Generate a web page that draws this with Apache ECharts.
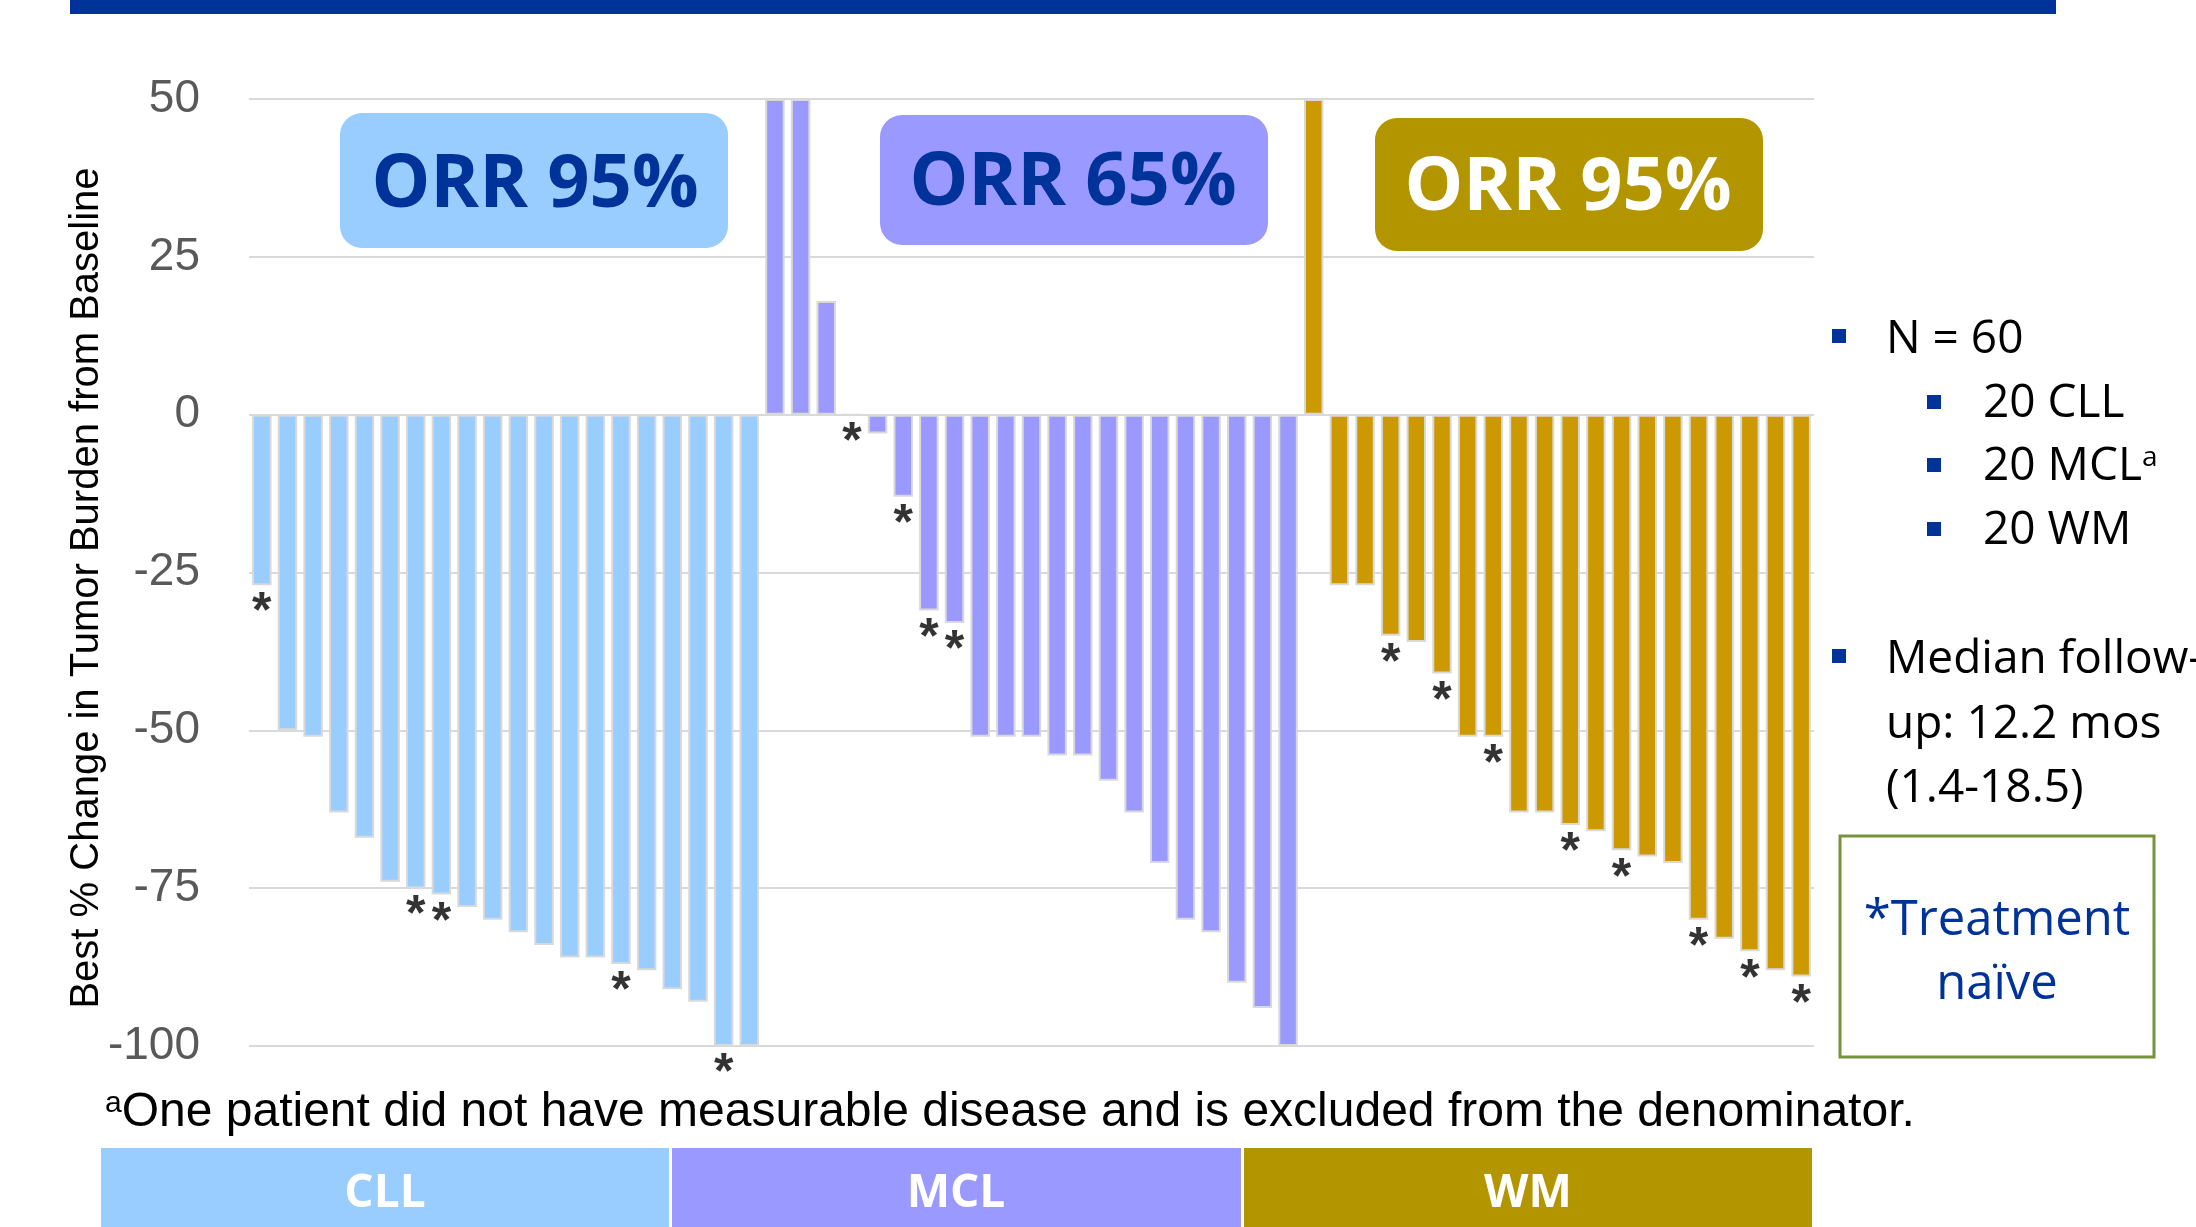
<!DOCTYPE html>
<html>
<head>
<meta charset="utf-8">
<script src="https://cdn.jsdelivr.net/npm/echarts@6/dist/echarts.min.js"></script>
<style>
html, body { margin: 0; padding: 0; background: #fff; }
#chart { width: 2196px; height: 1227px; }
</style>
</head>
<body>
<div id="chart"></div>
<script>
// best % change per patient, sorted within each group
var cllValues = [-27, -50, -51, -63, -67, -74, -75, -76, -78, -80, -82, -84, -86, -86, -87, -88, -91, -93, -100, -100];
var mclValues = [50, 50, 18, 0, -3, -13, -31, -33, -51, -51, -51, -54, -54, -58, -63, -71, -80, -82, -90, -94, -100];
var wmValues = [50, -27, -27, -35, -36, -41, -51, -51, -63, -63, -65, -66, -69, -70, -71, -80, -83, -85, -88, -89];
// treatment naive patients (index inside each group)
var cllStars = [0, 6, 7, 14, 18];
var mclStars = [3, 5, 6, 7];
var wmStars = [3, 5, 7, 10, 12, 15, 17, 19];
var groupNames = ['CLL', 'MCL', 'WM'];
var orrLabels = ['ORR 95%', 'ORR 65%', 'ORR 95%'];
var yMin = -100, yMax = 50, yStep = 25;

var colors = { CLL: '#99CCFF', MCL: '#9999FF', WM: '#CC9900' };
var darkBlue = '#003399';

var cats = [];
var barData = [];
var starData = [];
function addGroup(vals, stars, name) {
    for (var i = 0; i < vals.length; i++) {
        var idx = cats.length;
        cats.push(name + ' ' + (i + 1));
        barData.push({ value: vals[i], itemStyle: { color: colors[name] } });
        if (stars.indexOf(i) >= 0) {
            starData.push([idx, vals[i]]);
        }
    }
}
addGroup(cllValues, cllStars, 'CLL');
addGroup(mclValues, mclStars, 'MCL');
addGroup(wmValues, wmStars, 'WM');

var myChart = echarts.init(document.getElementById('chart'));

var sideFont = '"Open Sans", "Noto Sans", sans-serif';
var arial = '"Liberation Sans", Arial, sans-serif';

function txt(text, x, y, size, color, weight, align, family) {
    return {
        type: 'text',
        x: x, y: y,
        style: {
            text: text,
            fill: color,
            fontSize: size,
            fontWeight: weight || 'normal',
            fontFamily: family || sideFont,
            align: align || 'left', textAlign: align || 'left',
            verticalAlign: 'middle', textVerticalAlign: 'middle'
        }
    };
}
function box(x, y, w, h, fill, r) {
    return { type: 'rect', shape: { x: x, y: y, width: w, height: h, r: r || 0 }, style: { fill: fill } };
}

var yName = txt('Best % Change in Tumor Burden from Baseline', 0, 0, 40, '#000', 'normal', 'center', arial);
yName.x = 87;
yName.y = 588;
yName.rotation = Math.PI / 2;

var graphics = [
    box(70, 0, 1986, 14, darkBlue),
    yName,
    // ORR badges
    box(340, 113, 388, 135, '#99CCFF', 22),
    box(880, 115, 388, 130, '#9999FF', 22),
    box(1375, 118, 388, 133, '#B39500', 22),
    txt(orrLabels[0], 535, 186, 74, darkBlue, 'bold', 'center'),
    txt(orrLabels[1], 1073, 184, 74, darkBlue, 'bold', 'center'),
    txt(orrLabels[2], 1568, 189, 74, '#fff', 'bold', 'center'),
    // group bands at bottom
    box(101, 1148, 568, 79, '#99CCFF'),
    box(672, 1148, 569, 79, '#9999FF'),
    box(1244, 1148, 568, 79, '#B39500'),
    txt(groupNames[0], 385, 1194, 46, '#fff', 'bold', 'center'),
    txt(groupNames[1], 956, 1194, 46, '#fff', 'bold', 'center'),
    txt(groupNames[2], 1528, 1194, 46, '#fff', 'bold', 'center'),
    // footnote
    {
        type: 'text', x: 105, y: 1113,
        style: {
            text: '{s|a}One patient did not have measurable disease and is excluded from the denominator.',
            fill: '#000', fontSize: 48, fontFamily: arial,
            verticalAlign: 'middle', textVerticalAlign: 'middle',
            rich: { s: { fontSize: 30, verticalAlign: 'top', fontFamily: arial } }
        }
    },
    // side notes
    box(1832, 329, 14, 14, darkBlue),
    txt('N = 60', 1886, 340, 46, '#000'),
    box(1927, 395, 14, 14, darkBlue),
    txt('20 CLL', 1983, 404, 46, '#000'),
    box(1927, 458, 14, 14, darkBlue),
    {
        type: 'text', x: 1983, y: 467,
        style: {
            text: '20 MCL{s|a}', fill: '#000', fontSize: 46, fontFamily: sideFont,
            verticalAlign: 'middle', textVerticalAlign: 'middle',
            rich: { s: { fontSize: 28, verticalAlign: 'top', fontFamily: sideFont } }
        }
    },
    box(1927, 522, 14, 14, darkBlue),
    txt('20 WM', 1983, 531, 46, '#000'),
    box(1832, 649, 14, 14, darkBlue),
    txt('Median follow-', 1886, 660, 46, '#000'),
    txt('up: 12.2 mos', 1886, 725, 46, '#000'),
    txt('(1.4-18.5)', 1886, 789, 46, '#000'),
    {
        type: 'rect', shape: { x: 1840, y: 836, width: 314, height: 221 },
        style: { fill: 'none', stroke: '#77933C', lineWidth: 3 }
    },
    txt('*Treatment', 1997, 921, 49, darkBlue, 'normal', 'center'),
    txt('naïve', 1997, 985, 49, darkBlue, 'normal', 'center')
];

option = {
    backgroundColor: '#fff',
    animation: false,
    grid: { left: 249, right: 382, top: 99, bottom: 181 },
    xAxis: {
        type: 'category',
        data: cats,
        axisLine: { show: false },
        axisTick: { show: false },
        axisLabel: { show: false },
        splitLine: { show: false }
    },
    yAxis: {
        type: 'value',
        min: yMin, max: yMax, interval: yStep,
        axisLine: { show: false },
        axisTick: { show: false },
        axisLabel: { fontSize: 46, color: '#595959', margin: 49, fontFamily: arial },
        splitLine: { lineStyle: { color: '#D9D9D9', width: 2 } }
    },
    series: [{
        type: 'bar',
        data: barData,
        barWidth: '76%',
        itemStyle: { borderColor: '#D9D9D9', borderWidth: 2 }
    }, {
        type: 'scatter',
        data: starData,
        symbolSize: 1,
        itemStyle: { color: 'rgba(0,0,0,0)' },
        label: {
            show: true,
            formatter: '*',
            position: 'bottom',
            distance: 3,
            fontSize: 50,
            fontWeight: 'bold',
            color: '#000',
            fontFamily: arial
        }
    }],
    graphic: graphics
};

myChart.setOption(option);
</script>
</body>
</html>
